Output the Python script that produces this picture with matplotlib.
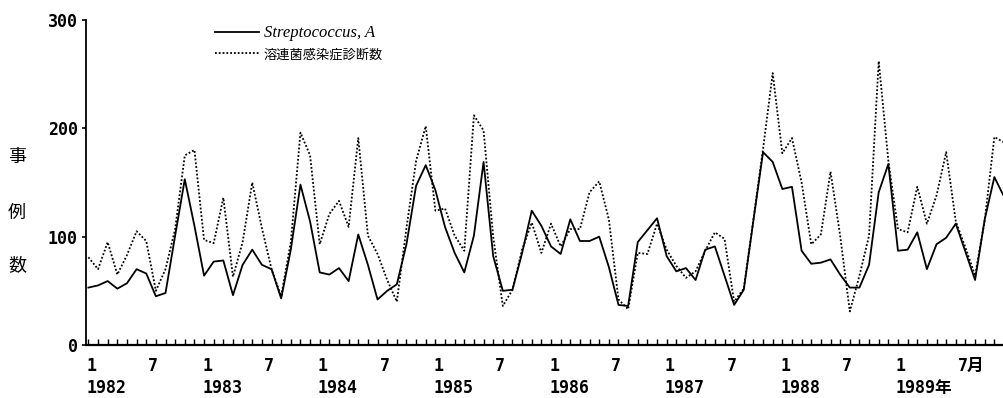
import numpy as np
import matplotlib
matplotlib.use("Agg")
import matplotlib.pyplot as plt

plt.rcParams['font.family'] = ['DejaVu Sans', 'Noto Sans CJK JP']

# monthly counts, Jan 1982 onwards (index 0 = 1982-01)
strep_a = [53, 55, 59, 52, 57, 70, 66, 45, 48, 101, 153, 110,
           64, 77, 78, 46, 74, 88, 74, 70, 43, 88, 148, 114,
           67, 65, 71, 59, 102, 74, 42, 50, 56, 93, 147, 166,
           143, 109, 85, 67, 101, 169, 82, 50, 51, 85, 124, 110,
           91, 84, 116, 96, 96, 100, 72, 37, 36, 95, 106, 117,
           82, 68, 71, 60, 88, 91, 64, 37, 51, 115, 178, 169,
           144, 146, 87, 75, 76, 79, 65, 53, 53, 74, 141, 167,
           87, 88, 104, 70, 93, 99, 112, 86, 60, 116, 155, 137]
diagnosed = [81, 70, 95, 65, 83, 105, 96, 50, 70, 107, 175, 180,
             97, 94, 136, 63, 95, 150, 108, 70, 45, 95, 196, 175,
             93, 121, 133, 109, 191, 101, 84, 60, 40, 108, 170, 202,
             124, 126, 101, 87, 212, 198, 100, 36, 51, 88, 113, 85,
             112, 91, 107, 107, 141, 151, 116, 42, 33, 85, 84, 112,
             88, 73, 62, 68, 87, 104, 98, 40, 52, 116, 181, 251,
             177, 191, 150, 93, 102, 160, 101, 31, 64, 101, 262, 170,
             107, 104, 146, 112, 138, 178, 114, 90, 64, 115, 192, 187]
years = [1982, 1983, 1984, 1985, 1986, 1987, 1988, 1989]
y_ticks = [0, 100, 200, 300]

months = np.arange(len(strep_a))

fig = plt.figure(figsize=(10.04, 3.98), dpi=100)
ax = fig.add_axes([86/1004, 53/398, (1004-86)/1004, 325/398])

l1, = ax.plot(months, strep_a, color='black', lw=1.3, ls='-')
l2, = ax.plot(months, diagnosed, color='black', lw=1.3, ls=(0, (1, 1.1)))

ax.set_xlim(-0.25, 94.7)
ax.set_ylim(0, 300)

for s in ['top', 'right']:
    ax.spines[s].set_visible(False)
ax.spines['left'].set_linewidth(1.3)
ax.spines['bottom'].set_linewidth(1.6)

tick_font = dict(family='DejaVu Sans Mono', weight='bold', size=12)
ax.set_yticks(y_ticks)
ax.set_yticklabels([str(v) for v in y_ticks], fontdict=tick_font)
ax.tick_params(axis='y', direction='out', length=3, width=1.2, pad=3)

ax.set_xticks(months)
ax.set_xticklabels([])
ax.tick_params(axis='x', direction='in', length=4, width=1.0)

# month / year labels under the axis
for k, yr in enumerate(years):
    m1 = 12 * k
    m7 = 12 * k + 6
    last = (yr == years[-1])
    ax.annotate('1', xy=(m1, 0), xycoords=('data', 'axes fraction'),
                xytext=(-2, -21), textcoords='offset pixels',
                ha='left', va='center', **tick_font)
    ax.annotate('7月' if last else '7', xy=(m7, 0), xycoords=('data', 'axes fraction'),
                xytext=(2, -21), textcoords='offset pixels',
                ha='left', va='center', family=['DejaVu Sans Mono', 'Noto Sans CJK JP'],
                weight='bold', size=12)
    ax.annotate(str(yr) + ('年' if last else ''), xy=(m1, 0), xycoords=('data', 'axes fraction'),
                xytext=(-2, -43), textcoords='offset pixels',
                ha='left', va='center', family=['DejaVu Sans Mono', 'Noto Sans CJK JP'],
                weight='bold', size=12)

# vertical y label
for ch, ypx in zip('事例数', [157, 213, 265]):
    fig.text(17/1004, 1 - ypx/398, ch, ha='center', va='center',
             family='Noto Sans CJK JP', size=13)

leg = ax.legend([l1, l2], ['Streptococcus, A', '溶連菌感染症診断数'],
                loc='upper left', bbox_to_anchor=(215/1004, 1 - 25/398),
                bbox_transform=fig.transFigure, frameon=False,
                borderpad=0, borderaxespad=0, handlelength=2.9,
                handletextpad=0.3, labelspacing=0.45, fontsize=11)
t0, t1 = leg.get_texts()
t0.set_family(['Liberation Serif'])
t0.set_style('italic')
t0.set_size(12)
t1.set_family(['Noto Sans CJK JP'])
t1.set_size(9.5)

fig.savefig('out.png', dpi=100)
